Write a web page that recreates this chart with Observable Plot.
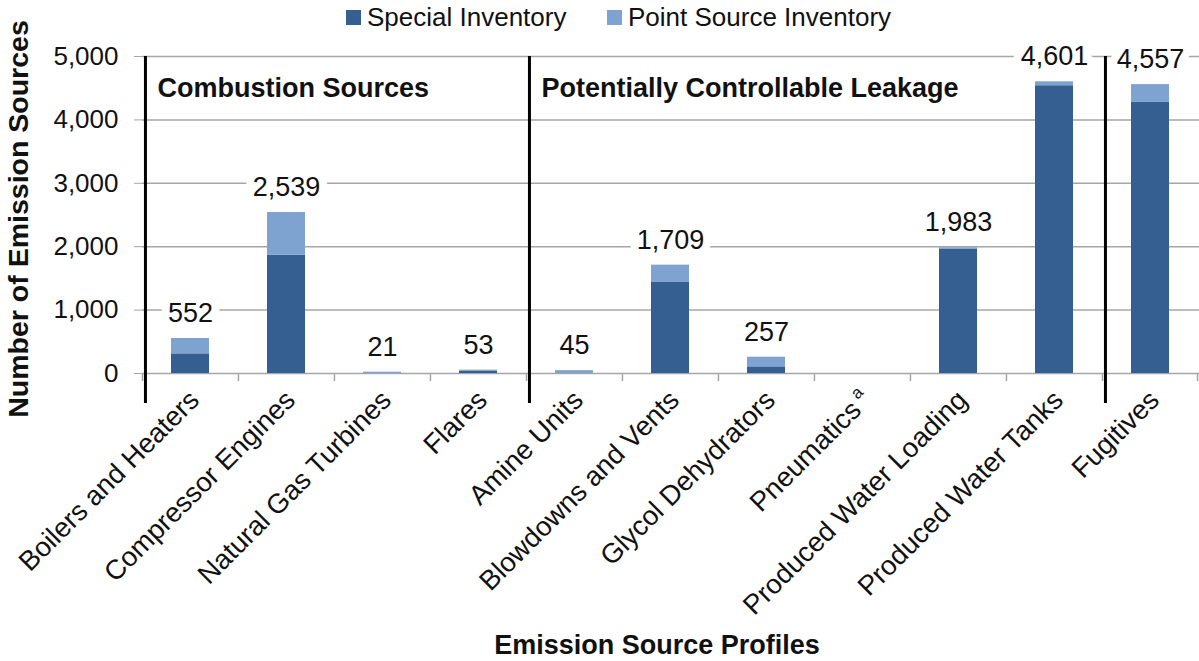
<!DOCTYPE html>
<html>
<head>
<meta charset="utf-8">
<script src="https://cdn.jsdelivr.net/npm/d3@7"></script>
<script src="https://cdn.jsdelivr.net/npm/@observablehq/plot@0.6"></script>
<style>
  body { margin: 0; background: #fff; font-family: "Liberation Sans", Arial, sans-serif; }
  #wrap { position: relative; width: 1199px; height: 661px; }
  #legend { position: absolute; left: 0; top: 0; width: 1199px; height: 36px; z-index: 2; }
  .item { position: absolute; top: 2px; font-size: 26px; line-height: 30px; color: #111; white-space: nowrap; }
  .sw { display: inline-block; width: 15px; height: 15px; margin-right: 6px; vertical-align: 1px; }
  #chart svg { display: block; }
</style>
</head>
<body>
<div id="wrap">
<div id="chart"></div>
<div id="legend"></div>
</div>
<script>
// ---- data ----
const categories = ["Boilers and Heaters", "Compressor Engines", "Natural Gas Turbines", "Flares",
  "Amine Units", "Blowdowns and Vents", "Glycol Dehydrators", "Pneumatics",
  "Produced Water Loading", "Produced Water Tanks", "Fugitives"];
const special     = [310, 1864, 0, 40, 0, 1444, 105, 0, 1957, 4539, 4282];
const pointSource = [242,  675, 21, 13, 45, 265, 152, 0,   26,   62,  275];
const totals      = [552, 2539, 21, 53, 45, 1709, 257, 0, 1983, 4601, 4557];
const seriesNames = ["Special Inventory", "Point Source Inventory"];
const seriesColors = ["#365F91", "#7FA3D1"];
const yTicks = [0, 1000, 2000, 3000, 4000, 5000];
const groupLabels = ["Combustion Sources", "Potentially Controllable Leakage"];
const groupStarts = ["Boilers and Heaters", "Amine Units"];
const separators = ["Boilers and Heaters", "Amine Units", "Fugitives"];
const xTitle = "Emission Source Profiles";
const yTitle = "Number of Emission Sources";

// ---- tables ----
const rows = [];
categories.forEach((c, i) => {
  rows.push({category: c, series: seriesNames[0], value: special[i]});
  rows.push({category: c, series: seriesNames[1], value: pointSource[i]});
});
const labelRows = categories.map((c, i) => ({category: c, total: totals[i]})).filter(d => d.total > 0);

// ---- layout ----
const W = 1199, H = 661, ML = 142, MR = 0, MT = 56, MB = 288;
const step = (W - ML - MR) / categories.length;
const grid = "#a6a6a6";
const ink = "#111";

// ---- legend ----
const legend = document.getElementById("legend");
const legendX = [346, 607];
seriesNames.forEach((s, i) => {
  const el = document.createElement("div");
  el.className = "item";
  el.style.left = legendX[i] + "px";
  el.innerHTML = `<span class="sw" style="background:${seriesColors[i]}"></span>${s}`;
  legend.appendChild(el);
});

const fmt = d3.format(",");

const chart = Plot.plot({
  width: W, height: H,
  marginLeft: ML, marginRight: MR, marginTop: MT, marginBottom: MB,
  style: {fontFamily: "Liberation Sans, Arial, sans-serif", fontSize: "26px", color: ink, background: "#fff"},
  x: {domain: categories, paddingInner: 0.6, paddingOuter: 0.3, label: null},
  y: {domain: [0, 5000], label: null},
  color: {domain: seriesNames, range: seriesColors},
  marks: [
    Plot.ruleY(yTicks.filter(d => d > 0), {stroke: grid, strokeWidth: 1.5}),
    Plot.ruleY([0], {stroke: grid, strokeWidth: 1.5}),
    Plot.ruleX(categories, {x: d => d, y1: 0, y2: 0, insetBottom: -8, dx: -step / 2, stroke: grid, strokeWidth: 1.5}),
    Plot.ruleX([categories[categories.length - 1]], {x: d => d, y1: 0, y2: 0, insetBottom: -8, dx: step / 2 - 1, stroke: grid, strokeWidth: 1.5}),
    Plot.barY(rows, {x: "category", y: "value", fill: "series"}),
    Plot.ruleX(separators, {x: d => d, y1: 5000, y2: 0, insetBottom: -30, dx: -step / 2 + 3, stroke: "#000", strokeWidth: 3}),
    Plot.text(labelRows, {x: "category", y: "total", text: d => fmt(d.total), dy: -25, fontSize: 27, fill: ink, stroke: "#fff", strokeWidth: 16}),
    Plot.text(groupLabels, {x: (d, i) => groupStarts[i], y: 5000, text: d => d, textAnchor: "start", dx: -step / 2 + 15, dy: 32, fontWeight: "bold", fontSize: 27, fill: ink}),
    Plot.axisY(yTicks, {tickSize: 8, tickPadding: 16, tickFormat: d => fmt(d), stroke: grid, fill: ink, fontSize: 26, label: null}),
    Plot.axisX({tickRotate: -45, tickSize: 0, tickPadding: 22, dx: 4, fontSize: 27.5, fill: ink, label: null}),
    Plot.text([xTitle], {frameAnchor: "bottom", dx: -14, dy: 280, fontWeight: "bold", fontSize: 27, fill: ink}),
    Plot.text([yTitle], {frameAnchor: "left", textAnchor: "middle", dx: -124, dy: 4, rotate: -90, fontWeight: "bold", fontSize: 28.5, fill: ink})
  ]
});
document.getElementById("chart").appendChild(chart);

// superscript "a" on Pneumatics
chart.querySelectorAll("text").forEach(t => {
  if (t.textContent === "Pneumatics") {
    const ts = document.createElementNS("http://www.w3.org/2000/svg", "tspan");
    ts.textContent = " a";
    ts.setAttribute("font-size", "17");
    ts.setAttribute("dy", "-12");
    t.appendChild(ts);
  }
});
</script>
</body>
</html>
